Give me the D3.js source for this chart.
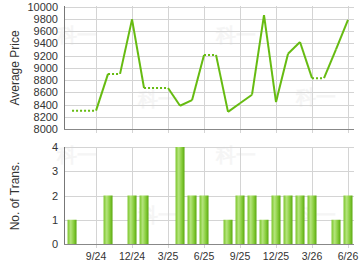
<!DOCTYPE html>
<html>
<head>
<meta charset="utf-8">
<script src="https://cdn.jsdelivr.net/npm/d3@7"></script>
<style>
  body { margin: 0; background: #fff; }
  text { font-family: "Liberation Sans", Arial, sans-serif; fill: #333; }
</style>
</head>
<body>
<div id="vis"></div>
<script>
// months from 7/24 to 6/26, one entry each
var months = ["7/24","8/24","9/24","10/24","11/24","12/24","1/25","2/25","3/25","4/25","5/25","6/25",
              "7/25","8/25","9/25","10/25","11/25","12/25","1/26","2/26","3/26","4/26","5/26","6/26"];
// average price, null = no transactions that month
var price = [8300, null, null, 8900, null, 9790, 8670, null, null, 8380, 8470, 9210,
             null, 8280, 8420, 8560, 9860, 8440, 9230, 9420, 8830, null, 9300, 9780];
var trans = [1, 0, 0, 2, 0, 2, 2, 0, 0, 4, 2, 2, 0, 1, 2, 2, 1, 2, 2, 2, 2, 0, 1, 2];
var tickLabels = ["9/24","12/24","3/25","6/25","9/25","12/25","3/26","6/26"];
var priceTicks = d3.range(8000, 10001, 200);
var transTicks = [0, 1, 2, 3, 4];

var w = 360, h = 270;
var left = 64, right = 354;

var svg = d3.select("#vis").append("svg")
    .attr("width", w).attr("height", h);

var x = d3.scaleLinear().domain([-0.67, 23.5]).range([left, right]);
var yP = d3.scaleLinear().domain([8000, 10000]).range([129, 6.5]);
var yT = d3.scaleLinear().domain([0, 4]).range([244, 147]);

var tickIdx = tickLabels.map(t => months.indexOf(t));

// gradient for bars
var grad = svg.append("defs").append("linearGradient").attr("id", "bar");
grad.append("stop").attr("offset", "0%").attr("stop-color", "#7cc62c");
grad.append("stop").attr("offset", "35%").attr("stop-color", "#b4e47c");
grad.append("stop").attr("offset", "70%").attr("stop-color", "#86cc3a");
grad.append("stop").attr("offset", "100%").attr("stop-color", "#5aa810");

// watermark
var marks = [[77, 42], [158, 106], [236, 42], [316, 104], [77, 162], [158, 222], [236, 162], [316, 222]];
svg.append("g").selectAll("text").data(marks).enter().append("text")
    .attr("x", d => d[0]).attr("y", d => d[1])
    .attr("text-anchor", "middle")
    .style("font-size", "20px").style("font-weight", "bold")
    .style("fill", "#f5f5f5")
    .text("科一");

function grid(g, y, ticks, y0, y1) {
  g.selectAll(".h").data(ticks).enter().append("line")
    .attr("x1", left).attr("x2", right)
    .attr("y1", d => Math.round(y(d)) + 0.5).attr("y2", d => Math.round(y(d)) + 0.5)
    .attr("stroke", "#d4d4d4");
  g.selectAll(".v").data(tickIdx).enter().append("line")
    .attr("x1", d => Math.round(x(d)) + 0.5).attr("x2", d => Math.round(x(d)) + 0.5)
    .attr("y1", y0).attr("y2", y1 + 4)
    .attr("stroke", "#d4d4d4");
  g.append("line").attr("x1", left + 0.5).attr("x2", left + 0.5)
    .attr("y1", y0).attr("y2", y1).attr("stroke", "#777");
  g.append("line").attr("x1", left).attr("x2", right)
    .attr("y1", y1 + 0.5).attr("y2", y1 + 0.5).attr("stroke", "#888");
  g.selectAll(".yl").data(ticks).enter().append("text")
    .attr("x", left - 6).attr("y", d => y(d) + 4)
    .attr("text-anchor", "end").style("font-size", "11px")
    .text(d => d);
}

var topG = svg.append("g");
grid(topG, yP, priceTicks, 6, 129);
var botG = svg.append("g");
grid(botG, yT, transTicks, 147, 244);

// x labels
botG.selectAll(".xl").data(tickIdx).enter().append("text")
  .attr("x", d => x(d)).attr("y", 260)
  .attr("text-anchor", "middle").style("font-size", "10.5px")
  .text((d, i) => tickLabels[i]);

// axis titles
svg.append("text").attr("transform", "translate(19,68) rotate(-90)")
  .attr("text-anchor", "middle").style("font-size", "12px").text("Average Price");
svg.append("text").attr("transform", "translate(19,196) rotate(-90)")
  .attr("text-anchor", "middle").style("font-size", "12px").text("No. of Trans.");

// price line, carry the last price through months without sales
var pts = [];
var last = null;
months.forEach((m, i) => {
  if (price[i] != null) last = price[i];
  pts.push({ i: i, v: last, real: price[i] != null });
});
var line = d3.line().x(d => x(d.i)).y(d => yP(d.v));
for (var k = 1; k < pts.length; k++) {
  topG.append("path")
    .attr("d", line([pts[k - 1], pts[k]]))
    .attr("fill", "none")
    .attr("stroke", "#66bb11")
    .attr("stroke-width", 2)
    .attr("stroke-dasharray", pts[k].real ? null : "2,2");
}

// bars
botG.selectAll("rect").data(trans.map((v, i) => ({ i: i, v: v })).filter(d => d.v > 0))
  .enter().append("rect")
  .attr("x", d => x(d.i) - 4.5)
  .attr("width", 9)
  .attr("y", d => yT(d.v))
  .attr("height", d => yT(0) - yT(d.v))
  .attr("fill", "url(#bar)");
</script>
</body>
</html>
